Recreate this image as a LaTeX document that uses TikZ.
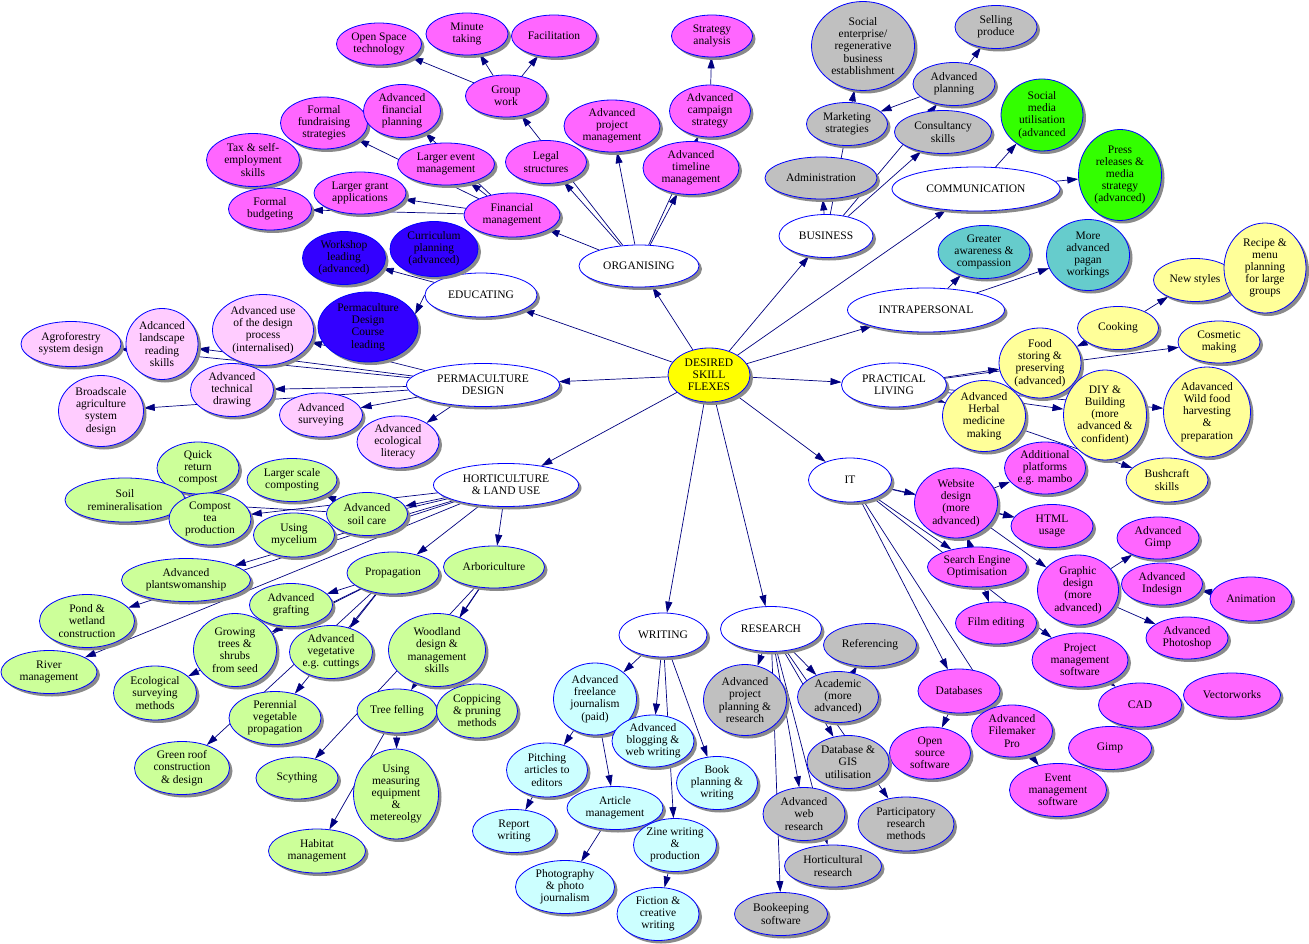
\documentclass[tikz,border=0pt]{standalone}
\usepackage{fontspec}
\setmainfont{Liberation Serif}
\usepackage{tikz}
\usetikzlibrary{shapes.geometric,shadows,arrows.meta,backgrounds}
\definecolor{rim}{HTML}{0000FF}
\definecolor{navy}{HTML}{000080}
\definecolor{shadowgrey}{HTML}{8A8A8A}
\definecolor{flexyellow}{HTML}{FFFF00}
\definecolor{orgpink}{HTML}{FF66FF}
\definecolor{edublue}{HTML}{3300FF}
\definecolor{bizgrey}{HTML}{C0C0C0}
\definecolor{comgreen}{HTML}{33FF00}
\definecolor{intrateal}{HTML}{66CCCC}
\definecolor{pracyellow}{HTML}{FFFF99}
\definecolor{permpink}{HTML}{FFCCFF}
\definecolor{hortgreen}{HTML}{CCFF99}
\definecolor{writecyan}{HTML}{CCFFFF}
\newcommand{\skillfont}{\fontsize{11.5}{12.2}\selectfont}
\tikzset{
  skill/.style={ellipse, draw=rim, line width=0.8pt, inner sep=0pt, align=center, font=\skillfont, text=black,
    drop shadow={shadow xshift=3pt, shadow yshift=-3pt, fill=shadowgrey, opacity=1}},
  ew/.style={minimum width=#1pt},
  eh/.style={minimum height=#1pt},
  hubnode/.style={skill, fill=white},
  flexnode/.style={skill, fill=flexyellow},
  orgnode/.style={skill, fill=orgpink},
  edunode/.style={skill, fill=edublue},
  biznode/.style={skill, fill=bizgrey},
  comnode/.style={skill, fill=comgreen},
  intranode/.style={skill, fill=intrateal},
  pracnode/.style={skill, fill=pracyellow},
  permnode/.style={skill, fill=permpink},
  hortnode/.style={skill, fill=hortgreen},
  writenode/.style={skill, fill=writecyan},
  link/.style={draw=navy, line width=0.7pt, -{Triangle[length=11pt,width=7pt]}},
}
\begin{document}
\begin{tikzpicture}[x=1pt,y=-1pt]
  \useasboundingbox (0,0) rectangle (1309,944);
  % hubs
  \node[flexnode, ew=82, eh=54] (flex) at (709,375) {DESIRED\\SKILL\\FLEXES};
  \node[hubnode, ew=120, eh=42] (organising) at (639,266) {ORGANISING};
  \node[hubnode, ew=112, eh=44] (educating) at (481,295) {EDUCATING};
  \node[hubnode, ew=94, eh=43] (business) at (826,236) {BUSINESS};
  \node[hubnode, ew=168, eh=44] (communication) at (976,189) {COMMUNICATION};
  \node[hubnode, ew=157, eh=44] (intrapersonal) at (926,310) {INTRAPERSONAL};
  \node[hubnode, ew=105, eh=44] (practical) at (894,385) {PRACTICAL\\LIVING};
  \node[hubnode, ew=153, eh=43] (permaculture) at (483,385) {PERMACULTURE\\DESIGN};
  \node[hubnode, ew=145, eh=43] (horticulture) at (506,485) {HORTICULTURE\\\& LAND USE};
  \node[hubnode, ew=83, eh=44] (it) at (850,480) {IT};
  \node[hubnode, ew=88, eh=44] (writing) at (663,635) {WRITING};
  \node[hubnode, ew=101, eh=45] (research) at (771,629) {RESEARCH};
  % organising
  \node[orgnode, ew=85, eh=42] (openspace) at (379,44) {Open Space\\technology};
  \node[orgnode, ew=82, eh=42] (minute) at (467,34) {Minute\\taking};
  \node[orgnode, ew=85, eh=42] (facil) at (554,36) {Facilitation};
  \node[orgnode, ew=81, eh=42] (groupwork) at (506,96) {Group\\work};
  \node[orgnode, ew=81, eh=42] (strategy) at (712,36) {Strategy\\analysis};
  \node[orgnode, ew=87, eh=52] (fundraising) at (324,123) {Formal\\fundraising\\strategies};
  \node[orgnode, ew=77, eh=53] (finplanning) at (402,111) {Advanced\\financial\\planning};
  \node[orgnode, ew=96, eh=52] (projmgmt) at (612,126) {Advanced\\project\\management};
  \node[orgnode, ew=81, eh=52] (campaign) at (710,111) {Advanced\\campaign\\strategy};
  \node[orgnode, ew=93, eh=53] (tax) at (253,160) {Tax \& self-\\employment\\skills};
  \node[orgnode, ew=97, eh=42] (eventmgmt) at (446,164) {Larger event\\management};
  \node[orgnode, ew=81, eh=43] (legal) at (546,162) {Legal\\structures};
  \node[orgnode, ew=96, eh=53] (timeline) at (691,168) {Advanced\\timeline\\management};
  \node[orgnode, ew=92, eh=42] (grant) at (360,193) {Larger grant\\applications};
  \node[orgnode, ew=83, eh=42] (budgeting) at (270,209) {Formal\\budgeting};
  \node[orgnode, ew=96, eh=44] (financial) at (512,215) {Financial\\management};
  % educating
  \node[edunode, ew=83, eh=53] (workshop) at (344,258) {Workshop\\leading\\(advanced)};
  \node[edunode, ew=88, eh=55] (curriculum) at (434,249) {Curriculum\\planning\\(advanced)};
  \node[edunode, ew=100, eh=70] (pdc) at (368,327) {Permaculture\\Design\\Course\\leading};
  % business
  \node[biznode, ew=103, eh=89] (socent) at (863,46) {Social\\enterprise/\\regenerative\\business\\establishment};
  \node[biznode, ew=82, eh=43] (selling) at (996,27) {Selling\\produce};
  \node[biznode, ew=82, eh=43] (advplanning) at (954,84) {Advanced\\planning};
  \node[biznode, ew=81, eh=43] (marketing) at (847,124) {Marketing\\strategies};
  \node[biznode, ew=97, eh=43] (consultancy) at (943,132) {Consultancy\\skills};
  \node[biznode, ew=112, eh=42] (admin) at (821,178) {Administration};
  % communication
  \node[comnode, ew=82, eh=72] (socialmedia) at (1042,115) {Social\\media\\utilisation\\(advanced};
  \node[comnode, ew=83, eh=91] (press) at (1120,175) {Press\\releases \&\\media\\strategy\\(advanced)};
  % intrapersonal
  \node[intranode, ew=92, eh=53] (awareness) at (984,252) {Greater\\awareness \&\\compassion};
  \node[intranode, ew=83, eh=71] (pagan) at (1088,255) {More\\advanced\\pagan\\workings};
  % practical living
  \node[pracnode, ew=83, eh=43] (newstyles) at (1195,280) {New styles};
  \node[pracnode, ew=82, eh=90] (recipe) at (1265,268) {Recipe \&\\menu\\planning\\for large\\groups};
  \node[pracnode, ew=81, eh=43] (cooking) at (1118,328) {Cooking};
  \node[pracnode, ew=82, eh=42] (cosmetic) at (1219,342) {Cosmetic\\making};
  \node[pracnode, ew=82, eh=70] (food) at (1040,363) {Food\\storing \&\\preserving\\(advanced)};
  \node[pracnode, ew=83, eh=71] (herbal) at (984,416) {Advanced\\Herbal\\medicine\\making};
  \node[pracnode, ew=83, eh=90] (diy) at (1105,415) {DIY \&\\Building\\(more\\advanced \&\\confident)};
  \node[pracnode, ew=87, eh=90] (wildfood) at (1207,412) {Adavanced\\Wild food\\harvesting\\\&\\preparation};
  \node[pracnode, ew=82, eh=44] (bushcraft) at (1167,480) {Bushcraft\\skills};
  % it
  \node[orgnode, ew=81, eh=52] (platforms) at (1045,468) {Additional\\platforms\\e.g. mambo};
  \node[orgnode, ew=83, eh=70] (website) at (956,503) {Website\\design\\(more\\advanced)};
  \node[orgnode, ew=82, eh=43] (html) at (1052,526) {HTML\\usage};
  \node[orgnode, ew=82, eh=42] (advgimp) at (1158,538) {Advanced\\Gimp};
  \node[orgnode, ew=99, eh=40] (seo) at (977,567) {Search Engine\\Optimisation};
  \node[orgnode, ew=81, eh=70] (graphic) at (1078,590) {Graphic\\design\\(more\\advanced)};
  \node[orgnode, ew=81, eh=42] (indesign) at (1162,584) {Advanced\\Indesign};
  \node[orgnode, ew=82, eh=44] (animation) at (1251,599) {Animation};
  \node[orgnode, ew=81, eh=42] (film) at (996,623) {Film editing};
  \node[orgnode, ew=82, eh=42] (photoshop) at (1187,638) {Advanced\\Photoshop};
  \node[orgnode, ew=96, eh=54] (pmsoftware) at (1080,660) {Project\\management\\software};
  \node[orgnode, ew=82, eh=44] (databases) at (959,691) {Databases};
  \node[orgnode, ew=83, eh=44] (cad) at (1140,705) {CAD};
  \node[orgnode, ew=97, eh=44] (vectorworks) at (1232,695) {Vectorworks};
  \node[orgnode, ew=81, eh=52] (filemaker) at (1012,731) {Advanced\\Filemaker\\Pro};
  \node[orgnode, ew=81, eh=52] (opensource) at (930,753) {Open\\source\\software};
  \node[orgnode, ew=83, eh=43] (gimp) at (1110,748) {Gimp};
  \node[orgnode, ew=97, eh=53] (eventsoft) at (1058,790) {Event\\management\\software};
  % writing
  \node[writenode, ew=83, eh=72] (freelance) at (595,699) {Advanced\\freelance\\journalism\\(paid)};
  \node[writenode, ew=82, eh=52] (blogging) at (653,741) {Advanced\\blogging \&\\web writing};
  \node[writenode, ew=81, eh=54] (pitching) at (547,770) {Pitching\\articles to\\editors};
  \node[writenode, ew=81, eh=53] (book) at (717,783) {Book\\planning \&\\writing};
  \node[writenode, ew=96, eh=43] (article) at (615,808) {Article\\management};
  \node[writenode, ew=83, eh=43] (report) at (514,831) {Report\\writing};
  \node[writenode, ew=83, eh=53] (zine) at (675,845) {Zine writing\\\&\\production};
  \node[writenode, ew=99, eh=53] (photo) at (565,887) {Photography\\\& photo\\journalism};
  \node[writenode, ew=82, eh=53] (fiction) at (658,914) {Fiction \&\\creative\\writing};
  % research
  \node[biznode, ew=93, eh=43] (referencing) at (870,645) {Referencing};
  \node[biznode, ew=83, eh=71] (projplan) at (745,700) {Advanced\\project\\planning \&\\research};
  \node[biznode, ew=81, eh=51] (academic) at (838,697) {Academic\\(more\\advanced)};
  \node[biznode, ew=82, eh=53] (dbgis) at (848,762) {Database \&\\GIS\\utilisation};
  \node[biznode, ew=82, eh=53] (webres) at (804,814) {Advanced\\web\\research};
  \node[biznode, ew=96, eh=54] (particip) at (906,824) {Participatory\\research\\methods};
  \node[biznode, ew=97, eh=42] (hortres) at (833,866) {Horticultural\\research};
  \node[biznode, ew=93, eh=43] (bookkeeping) at (781,914) {Bookeeping\\software};
  % permaculture design
  \node[permnode, ew=100, eh=45] (agro) at (71,344) {Agroforestry\\system design};
  \node[permnode, ew=72, eh=71] (landscape) at (162,344) {Adcanced\\landscape\\reading\\skills};
  \node[permnode, ew=101, eh=71] (designproc) at (263,330) {Advanced use\\of the design\\process\\(internalised)};
  \node[permnode, ew=85, eh=71] (broadscale) at (101,411) {Broadscale\\agriculture\\system\\design};
  \node[permnode, ew=83, eh=53] (techdraw) at (232,390) {Advanced\\technical\\drawing};
  \node[permnode, ew=83, eh=44] (surveying) at (321,415) {Advanced\\surveying};
  \node[permnode, ew=82, eh=52] (ecolit) at (398,442) {Advanced\\ecological\\literacy};
  % horticulture
  \node[hortnode, ew=82, eh=52] (quick) at (198,468) {Quick\\return\\compost};
  \node[hortnode, ew=90, eh=43] (largescale) at (292,480) {Larger scale\\composting};
  \node[hortnode, ew=120, eh=44] (soilremin) at (125,500) {Soil\\remineralisation};
  \node[hortnode, ew=82, eh=52] (composttea) at (210,519) {Compost\\tea\\production};
  \node[hortnode, ew=81, eh=43] (soilcare) at (367,514) {Advanced\\soil care};
  \node[hortnode, ew=81, eh=44] (mycelium) at (294,535) {Using\\mycelium};
  \node[hortnode, ew=129, eh=43] (plants) at (186,580) {Advanced\\plantswomanship};
  \node[hortnode, ew=92, eh=42] (propagation) at (393,573) {Propagation};
  \node[hortnode, ew=101, eh=42] (arbori) at (494,567) {Arboriculture};
  \node[hortnode, ew=95, eh=53] (pond) at (87,621) {Pond \&\\wetland\\construction};
  \node[hortnode, ew=96, eh=43] (river) at (49,672) {River\\management};
  \node[hortnode, ew=83, eh=43] (grafting) at (291,605) {Advanced\\grafting};
  \node[hortnode, ew=83, eh=73] (growing) at (235,650) {Growing\\trees \&\\shrubs\\from seed};
  \node[hortnode, ew=83, eh=53] (vegetative) at (331,652) {Advanced\\vegetative\\e.g. cuttings};
  \node[hortnode, ew=83, eh=54] (ecosurvey) at (155,693) {Ecological\\surveying\\methods};
  \node[hortnode, ew=97, eh=73] (woodland) at (437,650) {Woodland\\design \&\\management\\skills};
  \node[hortnode, ew=92, eh=53] (perennial) at (275,718) {Perennial\\vegetable\\propagation};
  \node[hortnode, ew=80, eh=44] (treefelling) at (397,711) {Tree felling};
  \node[hortnode, ew=81, eh=54] (coppicing) at (477,711) {Coppicing\\\& pruning\\methods};
  \node[hortnode, ew=95, eh=53] (greenroof) at (182,768) {Green roof\\construction\\\& design};
  \node[hortnode, ew=82, eh=42] (scything) at (297,778) {Scything};
  \node[hortnode, ew=85, eh=90] (measuring) at (396,794) {Using\\measuring\\equipment\\\&\\metereolgy};
  \node[hortnode, ew=97, eh=44] (habitat) at (317,851) {Habitat\\management};
  % connectors behind the nodes
  \begin{pgfonlayer}{background}
    \fill[white] (0,0) rectangle (1309,944);
    \foreach \b in {organising,educating,business,communication,intrapersonal,practical,
      permaculture,horticulture,it,writing,research}
      \draw[link] (flex) -- (\b);
    \foreach \a/\b in {organising/groupwork,organising/legal,organising/projmgmt,organising/timeline,
      organising/campaign,organising/financial,groupwork/openspace,groupwork/minute,groupwork/facil,
      campaign/strategy,financial/eventmgmt,financial/grant,financial/budgeting,financial/fundraising,
      financial/finplanning,educating/workshop,educating/curriculum}
      \draw[link] (\a) -- (\b);
    \draw[link] (educating.west) -- (pdc.15);
    \foreach \a/\b in {business/admin,business/consultancy,business/advplanning,business/socent,
      advplanning/selling,advplanning/marketing,communication/socialmedia,communication/press,
      intrapersonal/awareness,intrapersonal/pagan,practical/food,practical/herbal,practical/diy,
      practical/bushcraft,practical/wildfood,practical/cosmetic,cooking/food,cooking/newstyles}
      \draw[link] (\a) -- (\b);
    \foreach \a/\b in {it/website,it/seo,it/html,it/databases,it/filemaker,it/pmsoftware,
      seo/website,seo/film,website/platforms,website/html,website/graphic,graphic/advgimp,
      graphic/indesign,graphic/photoshop,animation/indesign,pmsoftware/cad,filemaker/eventsoft,
      databases/opensource,databases/filemaker}
      \draw[link] (\a) -- (\b);
    \foreach \a/\b in {writing/freelance,writing/blogging,writing/book,writing/zine,
      freelance/pitching,freelance/article,pitching/report,article/photo,zine/fiction,
      research/projplan,research/academic,research/dbgis,research/webres,research/bookkeeping,
      research/particip,research/hortres,academic/referencing}
      \draw[link] (\a) -- (\b);
    \foreach \a/\b in {permaculture/agro,permaculture/landscape,permaculture/designproc,
      permaculture/broadscale,permaculture/techdraw,permaculture/surveying,permaculture/ecolit,
      horticulture/soilcare,horticulture/propagation,horticulture/arbori,horticulture/plants,
      horticulture/mycelium,horticulture/composttea,horticulture/pond,horticulture/river,
      soilcare/largescale,soilcare/soilremin,propagation/grafting,propagation/growing,
      propagation/vegetative,propagation/ecosurvey,propagation/perennial,propagation/greenroof,
      arbori/woodland,arbori/treefelling,arbori/scything,coppicing/woodland,
      treefelling/measuring,treefelling/habitat}
      \draw[link] (\a) -- (\b);
  \end{pgfonlayer}
\end{tikzpicture}
\end{document}
